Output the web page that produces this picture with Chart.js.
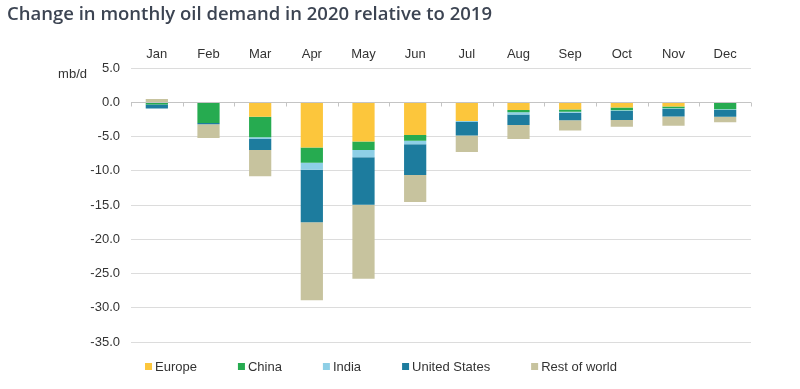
<!DOCTYPE html>
<html>
<head>
<meta charset="utf-8">
<script src="https://cdn.jsdelivr.net/npm/chart.js@4"></script>
<style>
  html, body { margin: 0; padding: 0; background: #ffffff; }
  #wrap { width: 800px; height: 389px; position: relative; }
</style>
</head>
<body>
<div id="wrap"><canvas id="oil-chart"></canvas></div>
<script>
// Change in monthly oil demand, 2020 vs 2019 (mb/d)
const months = ['Jan', 'Feb', 'Mar', 'Apr', 'May', 'Jun', 'Jul', 'Aug', 'Sep', 'Oct', 'Nov', 'Dec'];
const europe = [0, 0, -2.1, -6.6, -5.7, -4.75, -2.7, -1.1, -1.05, -0.75, -0.6, -0.1];
const china = [-0.3, -3.0, -3.0, -2.2, -1.25, -0.85, 0, -0.35, -0.3, -0.4, -0.25, -0.9];
const india = [0, 0, -0.25, -1.05, -1.05, -0.5, -0.15, -0.3, -0.15, -0.1, -0.1, -0.1];
const unitedStates = [-0.6, -0.2, -1.6, -7.65, -6.95, -4.5, -2.0, -1.55, -1.1, -1.3, -1.1, -1.0];
const restOfWorld = [0.5, -2.0, -3.85, -11.4, -10.8, -3.95, -2.4, -2.05, -1.5, -1.0, -1.35, -0.8];
const yTicks = [5, 0, -5, -10, -15, -20, -25, -30, -35];

const seriesNames = ['Europe', 'China', 'India', 'United States', 'Rest of world'];
const seriesColors = ['#fcc63c', '#26ab50', '#8ecfe6', '#1d7c9e', '#c7c39e'];

const FONT = 'Liberation Sans, Arial, sans-serif';

// zero line with little ticks between the months
const zeroAxis = {
    id: 'zeroAxis',
    beforeDatasetsDraw(chart) {
        const { ctx, chartArea, scales: { x, y } } = chart;
        const y0 = Math.round(y.getPixelForValue(0)) + 0.5;
        const step = x.getPixelForValue(1) - x.getPixelForValue(0);
        ctx.save();
        ctx.strokeStyle = '#c4c4c4';
        ctx.lineWidth = 1;
        ctx.beginPath();
        ctx.moveTo(chartArea.left, y0);
        ctx.lineTo(chartArea.right, y0);
        for (let i = 0; i <= months.length; i++) {
            const px = Math.round(x.getPixelForValue(i) - step / 2) + 0.5;
            ctx.moveTo(px, y0);
            ctx.lineTo(px, y0 + 4);
        }
        ctx.stroke();
        ctx.restore();
    }
};

// unit label and legend
const extras = {
    id: 'extras',
    afterDraw(chart) {
        const { ctx, scales: { y } } = chart;
        ctx.save();
        ctx.font = '13px ' + FONT;
        ctx.fillStyle = '#333333';
        ctx.textAlign = 'right';
        ctx.textBaseline = 'middle';
        ctx.fillText('mb/d', 87, y.getPixelForValue(5) + 6);

        // legend
        const box = 7, gapText = 3, gapItem = 41;
        ctx.textAlign = 'left';
        const widths = chart.data.datasets.map(d => box + gapText + ctx.measureText(d.label).width);
        const total = widths.reduce((a, b) => a + b, 0) + gapItem * (widths.length - 1);
        let lx = 381 - total / 2;
        const ly = 366;
        chart.data.datasets.forEach((d, i) => {
            ctx.fillStyle = d.backgroundColor;
            ctx.fillRect(lx, ly - 3, box, box);
            ctx.fillStyle = '#333333';
            ctx.fillText(d.label, lx + box + gapText, ly + 1);
            lx += widths[i] + gapItem;
        });
        ctx.restore();
    }
};

const seriesData = [europe, china, india, unitedStates, restOfWorld];

new Chart(document.getElementById('oil-chart').getContext('2d'), {
    type: 'bar',
    data: {
        labels: months,
        datasets: seriesNames.map((name, i) => ({
            label: name,
            data: seriesData[i],
            backgroundColor: seriesColors[i],
            borderWidth: 0,
            barPercentage: 0.43,
            categoryPercentage: 1
        }))
    },
    options: {
        responsive: true,
        maintainAspectRatio: false,
        animation: false,
        layout: { padding: { left: 7, right: 49, top: 0, bottom: 47 } },
        plugins: {
            legend: { display: false },
            tooltip: { enabled: false },
            title: {
                display: true,
                text: 'Change in monthly oil demand in 2020 relative to 2019',
                align: 'start',
                color: '#3c4452',
                font: { family: 'Open Sans', size: 18.5, weight: '600' },
                padding: { top: 4, bottom: 12 }
            }
        },
        scales: {
            x: {
                position: 'top',
                stacked: true,
                grid: { display: false, drawTicks: false },
                border: { display: false },
                ticks: { color: '#333333', font: { family: FONT, size: 13 }, padding: 6 },
                afterFit(scale) { scale.height = 30; }
            },
            y: {
                stacked: true,
                min: -35,
                max: 5,
                afterBuildTicks(scale) { scale.ticks = yTicks.map(v => ({ value: v })); },
                grid: {
                    color: ctx => ctx.tick && ctx.tick.value === 0 ? 'rgba(0,0,0,0)' : '#dcdcdc',
                    drawTicks: false
                },
                border: { display: false },
                ticks: {
                    color: '#333333',
                    font: { family: FONT, size: 13 },
                    padding: 11,
                    callback: v => v.toFixed(1)
                },
                afterFit(scale) { scale.width = 124; }
            }
        }
    },
    plugins: [zeroAxis, extras]
});
</script>
</body>
</html>
